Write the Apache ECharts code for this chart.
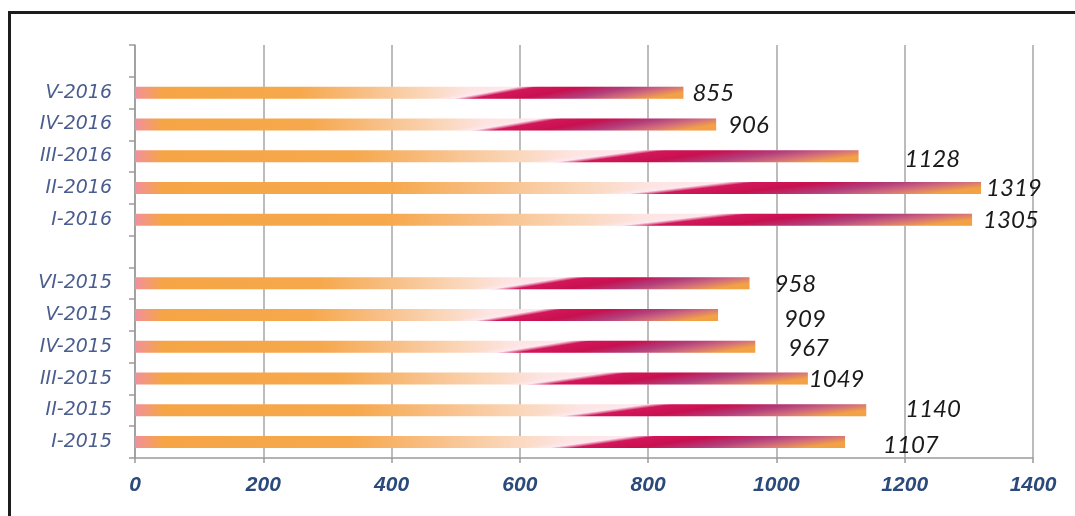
<!DOCTYPE html>
<html>
<head>
<meta charset="utf-8">
<script src="https://cdn.jsdelivr.net/npm/echarts@6/dist/echarts.min.js"></script>
<style>
  html, body { margin: 0; padding: 0; background: #ffffff; }
  #wrap { position: relative; width: 1075px; height: 516px; overflow: hidden; }
  #frame { position: absolute; left: 8px; top: 11px; width: 1200px; height: 600px;
           border-top: 3px solid #1c1c1c; border-left: 3px solid #1c1c1c; box-sizing: border-box; }
  #chart { position: absolute; left: 0; top: 0; width: 1075px; height: 516px; }
</style>
</head>
<body>
<div id="wrap">
  <div id="frame"></div>
  <div id="chart"></div>
</div>
<script>
// Categories, bottom to top (empty strings are the blank rows)
const categories = ['I-2015', 'II-2015', 'III-2015', 'IV-2015', 'V-2015', 'VI-2015', '',
                    'I-2016', 'II-2016', 'III-2016', 'IV-2016', 'V-2016', ''];
// Values shown on the bars
const values = [1107, 1140, 1049, 967, 909, 958, null,
                1305, 1319, 1128, 906, 855, null];
// Value axis tick labels
const xTicks = [0, 200, 400, 600, 800, 1000, 1200, 1400];

// Label nudges (style only), same order as categories
const labelNudge = [[38, 3], [39, -1], [1, 1], [33, 1], [66, 4], [25, 1], [0, 0],
                    [11, 1], [5, 0], [46, 3], [12, 1], [9, 1], [0, 0]];

const BAR_H = 12;
const PINK_EDGE = 28;   // px of pink at the left end of each bar

// base layer: horizontal gradient (left part of each bar)
function baseStops(w) {
  return [
    { offset: 0.0, color: '#f1909c' },
    { offset: Math.min(PINK_EDGE / w, 0.1), color: '#f5a545' },
    { offset: 0.3, color: '#f6a84c' },
    { offset: 0.42, color: '#f8bf86' },
    { offset: 0.52, color: '#fad5b6' },
    { offset: 0.61, color: '#fde5e4' },
    { offset: 1.0, color: '#fde9ef' }
  ];
}
// top layer: slanted gradient (the crimson wedge and right end)
const topStops = [
  { offset: 0.0, color: 'rgba(253,233,239,0)' },
  { offset: 0.6, color: 'rgba(253,233,239,0)' },
  { offset: 0.64, color: '#fde8ef' },
  { offset: 0.675, color: '#d2165a' },
  { offset: 0.76, color: '#c8104f' },
  { offset: 0.85, color: '#b23f7c' },
  { offset: 0.93, color: '#d4707a' },
  { offset: 1.0, color: '#f2a245' }
];

const chart = echarts.init(document.getElementById('chart'), null, { renderer: 'canvas' });

const labelStyle = {
  show: true,
  position: 'right',
  distance: 0,
  color: '#1a1a1a',
  fontFamily: 'Lato, Open Sans, sans-serif',
  fontStyle: 'italic',
  fontSize: 24
};

function buildOption(baseItems, topItems) {
  return {
    animation: false,
    backgroundColor: 'transparent',
    grid: { left: 135, right: 42, top: 45, bottom: 58, containLabel: false },
    xAxis: {
      type: 'value',
      min: xTicks[0],
      max: xTicks[xTicks.length - 1],
      interval: xTicks[1] - xTicks[0],
      axisLine: { show: true, lineStyle: { color: '#9a9a9a', width: 1.5 } },
      axisTick: { show: true, length: 5, lineStyle: { color: '#9a9a9a', width: 1.5 } },
      splitLine: { show: true, lineStyle: { color: '#a6a6a6', width: 1.5 } },
      axisLabel: {
        margin: 17,
        color: '#2b4a7c',
        formatter: v => String(v),
        fontFamily: 'Liberation Sans Narrow, Liberation Sans, sans-serif',
        fontStyle: 'italic',
        fontWeight: 'bold',
        fontSize: 21
      }
    },
    yAxis: {
      type: 'category',
      data: categories,
      axisLine: { show: true, lineStyle: { color: '#9a9a9a', width: 1.5 } },
      axisTick: { show: true, length: 6, lineStyle: { color: '#9a9a9a', width: 1.5 } },
      splitLine: { show: false },
      axisLabel: {
        margin: 23,
        color: '#4a5d8e',
        fontFamily: 'DejaVu Sans, sans-serif',
        fontStyle: 'italic',
        fontSize: 19
      }
    },
    series: [{
      type: 'bar',
      name: 'base',
      data: baseItems,
      barWidth: BAR_H,
      itemStyle: { color: '#f5a545' },
      label: { show: false }
    }, {
      type: 'bar',
      name: 'value',
      data: topItems,
      barWidth: BAR_H,
      barGap: '-100%',
      itemStyle: { color: 'rgba(0,0,0,0)' },
      label: labelStyle
    }]
  };
}

const plainBase = values.map(v => v == null ? null : { value: v });
const plainTop = values.map((v, i) => v == null ? null : { value: v, label: { offset: labelNudge[i] } });
chart.setOption(buildOption(plainBase, plainTop));

const styledBase = [];
const styledTop = [];
values.forEach((v, i) => {
  if (v == null) { styledBase.push(null); styledTop.push(null); return; }
  const p0 = chart.convertToPixel({ seriesIndex: 0 }, [0, i]);
  const p1 = chart.convertToPixel({ seriesIndex: 0 }, [v, i]);
  const w = p1[0] - p0[0];
  const base = new echarts.graphic.LinearGradient(0, 0, 1, 0, baseStops(w));
  const s = 0.12 * w;   // horizontal slant across the bar height
  const lam = (w * BAR_H) / (BAR_H * BAR_H + s * s);
  const top = new echarts.graphic.LinearGradient(
    p0[0], p0[1], p0[0] + lam * BAR_H, p0[1] + lam * s, topStops, true);
  styledBase.push({ value: v, itemStyle: { color: base } });
  styledTop.push({ value: v, label: { offset: labelNudge[i] }, itemStyle: { color: top } });
});
chart.setOption(buildOption(styledBase, styledTop));
</script>
</body>
</html>
